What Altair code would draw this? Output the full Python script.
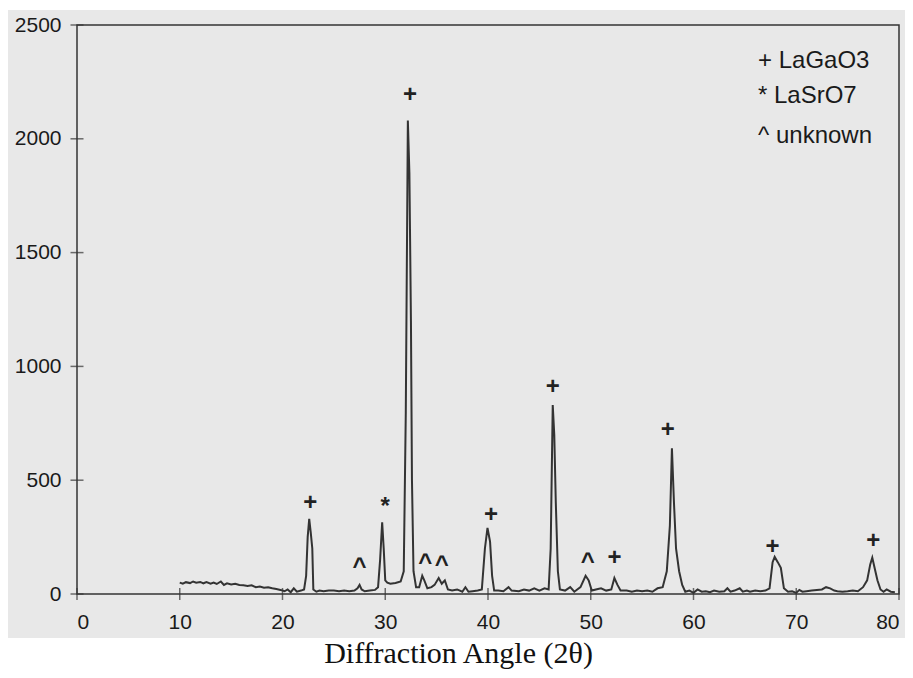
import altair as alt
import pandas as pd

# ---- data ----
angle = [10.0, 10.3, 10.6, 11.0, 11.3, 11.6, 12.0, 12.3, 12.6, 13.0, 13.3, 13.6, 14.0, 14.3, 14.6,
         15.0, 15.4, 15.8, 16.2, 16.6, 17.0, 17.4, 17.8, 18.2, 18.6, 19.0, 19.4, 19.8, 20.2, 20.5,
         20.8, 21.1, 21.4, 21.8, 22.1, 22.3, 22.45, 22.6, 22.75, 22.9, 23.0, 23.3, 23.6, 24.0, 24.5,
         25.0, 25.5, 26.0, 26.5, 27.0, 27.3, 27.5, 27.7, 28.0, 28.5, 29.0, 29.3, 29.5, 29.7, 29.85,
         30.0, 30.2, 30.5, 31.0, 31.5, 31.8, 32.0, 32.2, 32.35, 32.5, 32.6, 32.75, 33.0, 33.3, 33.6,
         33.8, 34.1, 34.5, 34.8, 35.2, 35.5, 35.8, 36.1, 36.5, 37.0, 37.5, 37.8, 38.1, 38.5, 39.0,
         39.4, 39.7, 39.95, 40.2, 40.4, 40.6, 41.0, 41.5, 42.0, 42.3, 43.0, 43.5, 44.0, 44.5, 45.0,
         45.5, 45.9, 46.1, 46.3, 46.45, 46.6, 46.8, 47.0, 47.5, 48.0, 48.4, 49.0, 49.5, 49.8, 50.1,
         50.5, 51.0, 51.5, 52.0, 52.3, 52.6, 52.9, 53.5, 54.0, 54.5, 55.0, 55.5, 56.0, 56.5, 57.0,
         57.4, 57.7, 57.9, 58.1, 58.3, 58.6, 58.9, 59.2, 59.6, 60.0, 60.4, 60.8, 61.2, 61.6, 62.0,
         62.5, 63.0, 63.3, 63.6, 64.0, 64.5, 64.8, 65.2, 65.5, 66.0, 66.5, 67.0, 67.4, 67.7, 67.9,
         68.2, 68.5, 68.8, 69.2, 69.6, 70.0, 70.3, 70.6, 71.0, 71.5, 72.0, 72.5, 72.9, 73.3, 73.7,
         74.0, 74.5, 75.0, 75.5, 76.0, 76.5, 76.9, 77.2, 77.4, 77.6, 77.9, 78.2, 78.5, 78.8, 79.2,
         79.6]
intensity = [50, 45, 52, 48, 55, 50, 53, 47, 52, 45, 50, 44, 55, 40, 47,
             42, 45, 40, 38, 35, 38, 30, 33, 28, 30, 25, 22, 18, 12, 20,
             8, 25, 10, 15, 20, 80, 250, 330, 270, 200, 20, 10, 15, 12, 15,
             15, 12, 15, 12, 15, 25, 40, 20, 12, 15, 18, 30, 150, 315, 200,
             60, 50, 45, 48, 55, 100, 800, 2080, 1850, 1200, 500, 100, 30, 30, 80,
             60, 25, 30, 40, 70, 45, 60, 20, 15, 20, 10, 30, 10, 12, 15,
             20, 200, 290, 230, 80, 15, 15, 12, 30, 15, 12, 20, 15, 25, 15,
             25, 20, 200, 830, 700, 400, 100, 20, 15, 30, 10, 30, 80, 60, 15,
             20, 25, 15, 20, 70, 40, 15, 15, 10, 15, 12, 15, 10, 25, 30,
             100, 300, 640, 400, 200, 100, 40, 10, 15, 5, 20, 10, 12, 8, 15,
             10, 12, 25, 10, 15, 25, 10, 15, 10, 15, 12, 15, 25, 140, 163,
             140, 115, 25, 10, 12, 5, 18, 10, 12, 15, 18, 20, 30, 25, 15,
             12, 10, 12, 15, 12, 30, 60, 130, 160, 120, 60, 20, 10, 20, 10,
             8]

marker_x = [22.7, 27.5, 30.0, 32.4, 33.9, 35.5, 40.3, 46.3, 49.7, 52.3, 57.5, 67.7, 77.5]
marker_y = [400, 119, 382, 2193, 136, 127, 347, 910, 140, 158, 720, 207, 233]
marker_sym = ["+", "^", "*", "+", "^", "^", "+", "+", "^", "+", "+", "+", "+"]

legend_text = ["+ LaGaO3", "* LaSrO7", "^ unknown"]

x_ticks = [0, 10, 20, 30, 40, 50, 60, 70, 80]
y_ticks = [0, 500, 1000, 1500, 2000, 2500]

W, H = 822, 569
INK = "#333333"
BG = "#e8e8e8"
SANS = "Liberation Sans"

df = pd.DataFrame({"angle": angle, "intensity": intensity})
mk = pd.DataFrame({"angle": marker_x, "intensity": marker_y, "sym": marker_sym})
xt = pd.DataFrame({"angle": x_ticks})
yt = pd.DataFrame({"intensity": y_ticks})


def one():
    return alt.Data(values=[{"k": 1}])


xscale = alt.Scale(domain=[0, 80], nice=False, zero=False)
yscale = alt.Scale(domain=[0, 2500], nice=False)

background = alt.Chart(one()).mark_rect(color=BG).encode(
    x=alt.value(-72), x2=alt.value(833), y=alt.value(-15), y2=alt.value(613)
)

line = alt.Chart(df).mark_line(color=INK, strokeWidth=2).encode(
    x=alt.X("angle:Q", scale=xscale,
            axis=alt.Axis(values=x_ticks, title="Diffraction Angle (2θ)", grid=False,
                          domain=False, ticks=False, labelPadding=17, labelFont=SANS,
                          labelFontSize=21, labelColor="#1a1a1a", titleFont="Liberation Serif",
                          titleFontSize=30, titleFontWeight="normal", titleColor="#111",
                          titlePadding=6, titleX=381, titleAlign="center", zindex=1)),
    y=alt.Y("intensity:Q", scale=yscale,
            axis=alt.Axis(values=y_ticks, format="d", title=None, grid=False, domain=False,
                          ticks=False, labelPadding=16, labelFont=SANS, labelFontSize=21,
                          labelColor="#1a1a1a", zindex=1)),
)

frame = alt.Chart(one()).mark_rect(filled=False, stroke=INK, strokeWidth=1.5).encode(
    x=alt.value(0), x2=alt.value(W), y=alt.value(0), y2=alt.value(H)
)

ytick_marks = alt.Chart(yt).mark_tick(orient="horizontal", size=13, thickness=1.5, color=INK).encode(
    y=alt.Y("intensity:Q", scale=yscale), x=alt.value(0)
)
xtick_marks = alt.Chart(xt).mark_tick(orient="vertical", size=12, thickness=1.5, color=INK).encode(
    x=alt.X("angle:Q", scale=xscale), y=alt.value(H)
)

markers = alt.Chart(mk).mark_text(font=SANS, fontSize=24, fontWeight="bold", color="#222",
                                  baseline="middle", align="center").encode(
    x=alt.X("angle:Q", scale=xscale),
    y=alt.Y("intensity:Q", scale=yscale),
    text="sym:N",
)

legend_y = [43, 78, 118]
legend_layers = [
    alt.Chart(one()).mark_text(font=SANS, fontSize=24, color="#1a1a1a", align="left",
                               baseline="alphabetic").encode(
        x=alt.value(681), y=alt.value(legend_y[i]), text=alt.value(legend_text[i])
    )
    for i in range(len(legend_text))
]

chart = alt.layer(
    background, line, frame, ytick_marks, xtick_marks, markers, *legend_layers
).properties(
    width=W, height=H,
    autosize=alt.AutoSizeParams(type="none"),
    padding={"left": 69, "top": 17, "right": 6, "bottom": 76},
).configure_view(stroke=None)

chart.save("out.html", embed_options={"renderer": "svg", "actions": False})
